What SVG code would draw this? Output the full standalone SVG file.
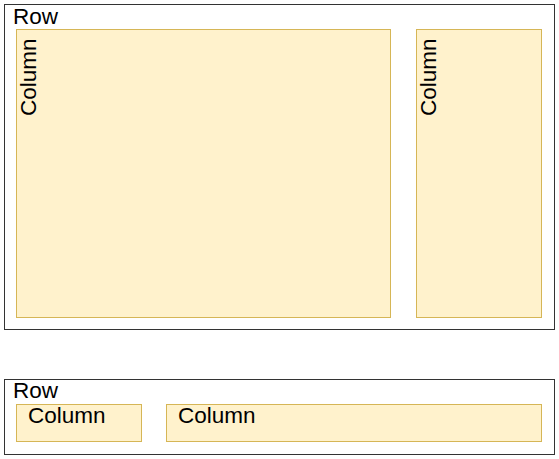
<svg xmlns="http://www.w3.org/2000/svg" width="559" height="459" viewBox="0 0 559 459">
<style>
.row{fill:#ffffff;stroke:#333333;stroke-width:1}
.col{fill:#fff2cc;stroke:#d6b656;stroke-width:1}
.t{font-family:"Liberation Sans",Arial,sans-serif;font-size:22.5px;fill:#000000}
</style>
<rect width="559" height="459" fill="#ffffff"/>
<g id="row1">
<rect class="row" x="4.5" y="4.5" width="550" height="325"/>
<text class="t" x="13" y="24">Row</text>
</g>
<g id="row1-col1">
<rect class="col" x="16.5" y="29.5" width="374" height="288"/>
<text class="t" transform="translate(36,116) rotate(-90)">Column</text>
</g>
<g id="row1-col2">
<rect class="col" x="416.5" y="29.5" width="125" height="288"/>
<text class="t" transform="translate(436,116) rotate(-90)">Column</text>
</g>
<g id="row2">
<rect class="row" x="4.5" y="379.5" width="550" height="75"/>
<text class="t" x="13" y="398">Row</text>
</g>
<g id="row2-col1">
<rect class="col" x="16.5" y="404.5" width="125" height="37"/>
<text class="t" x="28" y="423">Column</text>
</g>
<g id="row2-col2">
<rect class="col" x="166.5" y="404.5" width="375" height="37"/>
<text class="t" x="178" y="423">Column</text>
</g>
<g id="connectors"></g>
</svg>
